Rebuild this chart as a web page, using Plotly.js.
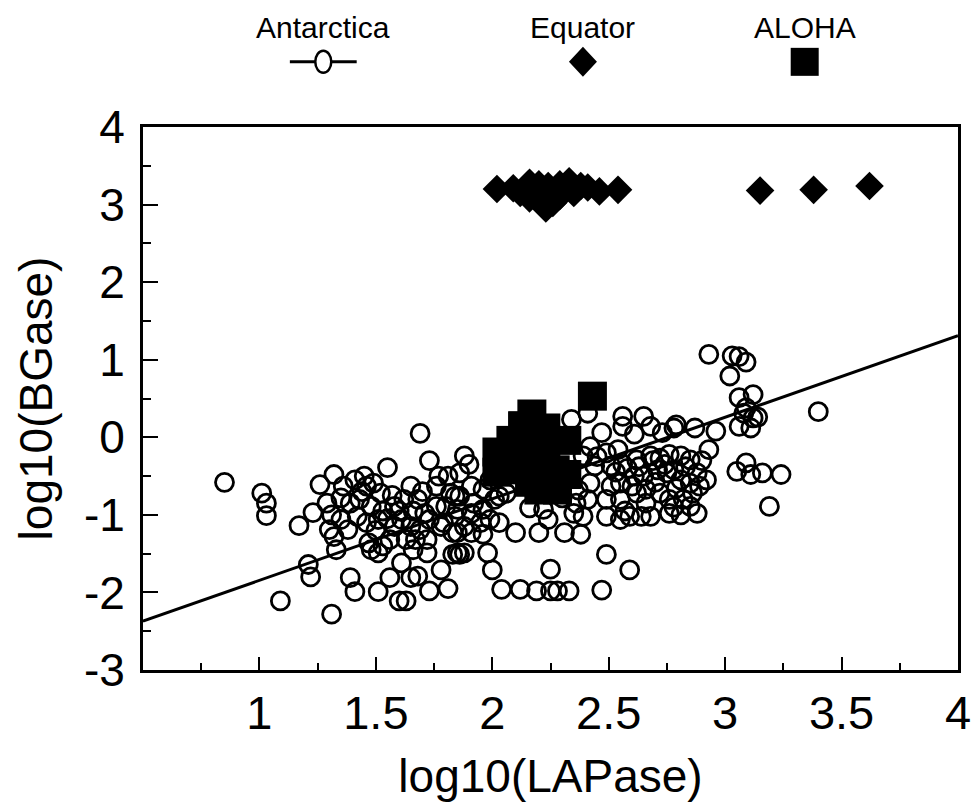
<!DOCTYPE html>
<html>
<head>
<meta charset="utf-8">
<script src="https://cdn.plot.ly/plotly-3.0.1.min.js"></script>
<style>
  html, body { margin: 0; padding: 0; background: #ffffff; }
  #chart { width: 973px; height: 802px; }
</style>
</head>
<body>
<div id="chart"></div>
<script>
// ---- Data ----
const antarcticaX = [
  0.85,1.01,1.03,1.03,1.17,1.23,1.21,1.22,1.09,1.31,1.26,1.32,1.31,1.32,1.29,1.30,1.33,
  1.36,1.41,1.45,1.49,1.52,1.39,1.43,1.48,1.42,1.46,1.51,1.38,1.35,1.48,1.51,1.53,1.56,1.58,1.58,1.62,1.65,1.68,1.71,1.61,1.65,1.69,1.63,1.66,1.76,1.73,1.79,1.76,1.81,1.82,1.83,
  1.39,1.41,1.51,1.56,1.60,1.63,1.65,1.68,1.73,1.81,1.78,1.83,1.69,1.73,1.55,1.47,1.67,1.72,1.46,1.35,1.77,1.84,1.80,1.84,1.72,1.61,1.86,1.78,
  1.44,1.53,1.57,1.60,1.66,1.70,1.50,1.55,
  1.88,1.90,1.86,1.91,1.86,1.92,1.85,1.91,1.96,2.01,2.03,1.99,2.03,1.95,1.88,1.91,1.96,1.85,2.10,2.20,2.24,2.31,2.38,2.16,2.35,2.39,2.36,2.41,
  1.85,1.88,1.98,2.00,2.25,2.04,2.12,2.19,2.25,2.28,2.33,2.41,2.34,2.42,2.44,2.42,2.39,2.30,2.37,2.45,2.06,1.99,1.96,2.22,
  2.56,2.65,2.56,2.61,2.68,2.73,2.79,2.87,2.96,2.93,3.06,3.11,3.08,3.12,3.05,3.09,3.11,3.16,3.24,3.19,
  2.49,2.54,2.51,2.56,2.62,2.68,2.72,2.76,2.81,2.85,2.88,2.92,2.89,2.85,2.81,2.75,2.71,2.65,2.61,2.55,2.51,2.49,2.55,2.62,2.66,2.76,2.82,2.85,2.81,2.76,2.68,2.59,2.55,2.49,2.88,
  2.53,2.58,2.70,2.74,2.79,2.83,2.90,2.66,2.72,2.57,2.78,2.69,2.63,
  2.93,3.03,3.06,3.09,3.02,3.06,3.12,3.09,3.14,2.49,2.59,2.47,2.47,2.78,2.86,2.64,2.60,2.78,
  3.40
];
const antarcticaY = [
  -0.58,-0.72,-0.85,-1.01,-1.14,-0.97,-1.64,-1.80,-2.11,-2.28,-0.61,-0.48,-1.00,-1.28,-0.85,-1.19,-1.45,
  -0.63,-0.55,-0.50,-0.59,-0.72,-0.85,-0.80,-0.89,-1.02,-1.10,-1.06,-1.19,-1.06,-1.45,-1.49,-1.40,-1.32,-1.15,-0.89,-0.80,-0.63,-0.80,-0.98,-1.06,-1.15,-1.19,-1.32,-1.45,-0.89,-1.06,-1.10,-0.63,-0.50,-0.72,-1.23,
  -1.81,-1.99,-1.99,-1.81,-2.11,-2.11,-1.81,-1.79,-1.98,-1.95,-1.71,-1.51,0.05,-0.30,-0.39,-1.36,-1.32,-1.32,-0.63,-0.78,-0.50,-0.76,-0.89,-1.02,-1.49,-1.62,-1.51,-1.15,
  -0.70,-0.95,-0.75,-0.95,-0.95,-0.70,-1.20,-1.05,
  -0.24,-0.35,-0.46,-0.63,-0.76,-0.85,-0.93,-0.98,-0.93,-0.80,-0.76,-1.06,-1.10,-1.10,-1.15,-1.23,-1.25,-1.23,-1.23,-1.23,-1.06,-1.23,-1.25,-0.91,-0.98,-1.02,-0.85,-0.80,
  -1.49,-1.49,-1.49,-1.71,-1.70,-1.96,-1.96,-1.98,-1.98,-1.98,-1.98,0.31,0.23,-0.12,-0.37,-0.59,-0.24,-0.78,-0.68,-0.25,-0.72,-0.55,-0.67,-0.93,
  0.27,0.27,0.14,0.04,0.14,0.06,0.16,0.12,0.08,-0.16,0.14,0.12,0.31,0.25,-0.44,-0.33,-0.48,-0.46,-0.48,-0.89,
  -0.20,-0.16,-0.37,-0.35,-0.29,-0.24,-0.27,-0.22,-0.24,-0.29,-0.46,-0.55,-0.63,-0.59,-0.55,-0.46,-0.42,-0.50,-0.50,-0.59,-0.63,-0.80,-0.80,-0.72,-0.67,-0.80,-0.80,-0.89,-1.00,-0.98,-1.02,-1.02,-1.06,-1.02,-0.98,
  -0.45,-0.40,-0.58,-0.35,-0.66,-0.38,-0.30,-0.85,-0.72,-0.95,-0.90,-0.30,-0.38,
  1.07,1.05,1.04,0.97,0.79,0.51,0.55,0.38,0.26,-1.51,-1.71,-1.97,0.06,-0.42,-0.72,-1.02,-0.63,0.12,
  0.33
];
const equatorX = [2.02,2.09,2.16,2.20,2.24,2.29,2.33,2.38,2.41,2.46,2.54,2.23,2.26,2.16,2.12,2.29,2.35,2.21,3.15,3.38,3.62];
const equatorY = [3.20,3.21,3.28,3.26,3.24,3.26,3.30,3.24,3.22,3.17,3.19,2.95,3.02,3.08,3.15,3.11,3.15,3.11,3.18,3.19,3.24];
const alohaX = [2.17,2.23,2.32,2.13,2.08,2.02,2.02,2.20,2.28,2.32,2.12,2.23,2.16,2.27,2.08,2.20,2.16,2.43];
const alohaY = [0.30,0.12,-0.04,0.15,-0.04,-0.19,-0.45,-0.68,-0.68,-0.48,-0.42,-0.22,-0.09,-0.42,-0.31,-0.50,-0.58,0.53];
const fitX = [0.5, 4.0];
const fitY = [-2.37, 1.31];
const seriesNames = ["Antarctica", "Equator", "ALOHA"];
const xTickVals = [1, 1.5, 2, 2.5, 3, 3.5, 4];
const xTickText = ["1", "1.5", "2", "2.5", "3", "3.5", "4"];
const yTickVals = [-3, -2, -1, 0, 1, 2, 3, 4];
const yTickText = ["-3", "-2", "-1", "0", "1", "2", "3", "4"];

// ---- Styling ----
const FONT = "Liberation Sans, Arial, Helvetica, sans-serif";

const traces = [
  {
    x: antarcticaX, y: antarcticaY, type: "scatter", mode: "markers", name: seriesNames[0],
    marker: { symbol: "circle-open", size: 18, color: "#000", line: { width: 2.8, color: "#000" } },
    showlegend: false, hoverinfo: "x+y"
  },
  {
    x: fitX, y: fitY, type: "scatter", mode: "lines", name: seriesNames[0] + " fit",
    line: { color: "#000", width: 3 }, showlegend: false
  },
  {
    x: equatorX, y: equatorY, type: "scatter", mode: "markers", name: seriesNames[1],
    marker: { symbol: "diamond", size: 22, color: "#000", line: { width: 0 } },
    showlegend: false
  },
  {
    x: alohaX, y: alohaY, type: "scatter", mode: "markers", name: seriesNames[2],
    marker: { symbol: "square", size: 29, color: "#000", line: { width: 0 } },
    showlegend: false
  }
];

// Custom legend above the plot: label over symbol
const legY = 1.12, legTextY = 1.183;
const legX = [0.2212, 0.5398, 0.8119];

const annotations = seriesNames.map((n, i) => ({
  text: n, xref: "paper", yref: "paper", x: legX[i], y: legTextY,
  xanchor: "center", yanchor: "middle", showarrow: false,
  font: { family: FONT, size: 30, color: "#000" }
}));

const shapes = [
  { type: "line", xref: "paper", yref: "paper", x0: legX[0] - 0.041, x1: legX[0] + 0.041, y0: legY, y1: legY,
    line: { color: "#000", width: 3 } },
  { type: "circle", xref: "paper", yref: "paper", xsizemode: "pixel", ysizemode: "pixel",
    xanchor: legX[0], yanchor: legY, x0: -8, x1: 8, y0: -11, y1: 11,
    fillcolor: "#fff", line: { color: "#000", width: 2.5 } },
  { type: "path", xref: "paper", yref: "paper", xsizemode: "pixel", ysizemode: "pixel",
    xanchor: legX[1], yanchor: legY, path: "M -14 0 L 0 15 L 14 0 L 0 -15 Z",
    fillcolor: "#000", line: { color: "#000", width: 0 } },
  { type: "rect", xref: "paper", yref: "paper", xsizemode: "pixel", ysizemode: "pixel",
    xanchor: legX[2], yanchor: legY, x0: -14, x1: 14, y0: -14, y1: 14,
    fillcolor: "#000", line: { color: "#000", width: 0 } }
];

const layout = {
  width: 973, height: 802,
  margin: { l: 142.5, r: 14.5, t: 127, b: 131.5, pad: 0 },
  paper_bgcolor: "#fff", plot_bgcolor: "#fff",
  font: { family: FONT, color: "#000" },
  showlegend: false,
  xaxis: {
    range: [0.5, 4], tickmode: "array", tickvals: xTickVals, ticktext: xTickText,
    ticks: "inside", ticklen: 13, tickwidth: 2, tickcolor: "#000",
    minor: { dtick: 0.25, tick0: 0.5, ticks: "inside", ticklen: 7, tickwidth: 2, tickcolor: "#000", showgrid: false },
    showline: true, linecolor: "#000", linewidth: 3, mirror: true,
    showgrid: false, zeroline: false,
    tickfont: { family: FONT, size: 47, color: "#000" }, ticklabelstandoff: 0,
    title: { text: "log10(LAPase)", font: { family: FONT, size: 46, color: "#000" }, standoff: 22 }
  },
  yaxis: {
    range: [-3, 4], tickmode: "array", tickvals: yTickVals, ticktext: yTickText,
    ticks: "inside", ticklen: 15, tickwidth: 2, tickcolor: "#000",
    minor: { dtick: 0.5, tick0: -3, ticks: "inside", ticklen: 8, tickwidth: 2, tickcolor: "#000", showgrid: false },
    showline: true, linecolor: "#000", linewidth: 3, mirror: true,
    showgrid: false, zeroline: false,
    tickfont: { family: FONT, size: 46, color: "#000" }, ticklabelstandoff: 6,
    title: { text: "log10(BGase)", font: { family: FONT, size: 46, color: "#000" }, standoff: 17 }
  },
  annotations: annotations,
  shapes: shapes
};

Plotly.newPlot("chart", traces, layout, { displayModeBar: false, staticPlot: true });
</script>
</body>
</html>
